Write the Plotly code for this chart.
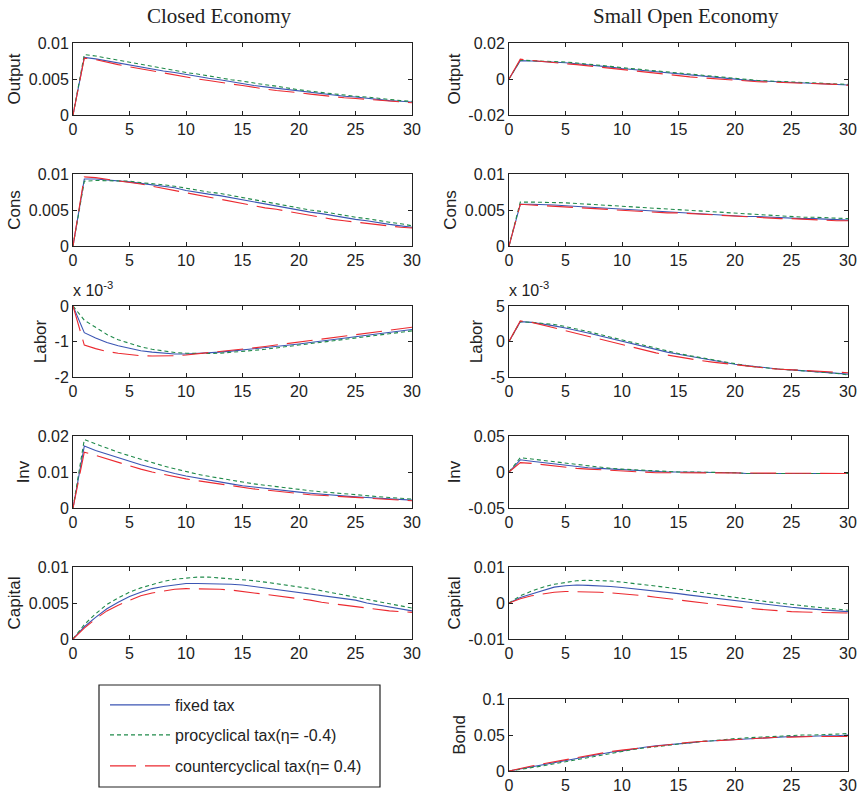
import plotly.graph_objects as go

W, H = 860, 797
t = list(range(31))

# ---------------- Closed economy ----------------
closed_output_fixed = [0, .0080, .0078, .0075, .0072, .0069, .0066, .0063, .0061, .0059, .0056, .0053, .0051, .0049, .0046, .0043, .0041, .0039, .0037, .0035, .0033, .0031, .0029, .0027, .0026, .0025, .0023, .0021, .0020, .0019, .0018]
closed_output_pro = [0, .0084, .0082, .0079, .0076, .0073, .0070, .0067, .0065, .0062, .0059, .0057, .0054, .0051, .0049, .0047, .0044, .0042, .0040, .0037, .0035, .0033, .0031, .0029, .0028, .0026, .0025, .0023, .0021, .0020, .0019]
closed_output_counter = [0, .0079, .0077, .0073, .0070, .0067, .0064, .0061, .0058, .0056, .0053, .0050, .0048, .0045, .0043, .0041, .0038, .0036, .0034, .0033, .0031, .0029, .0027, .0025, .0024, .0023, .0022, .0021, .0019, .0018, .0017]

closed_cons_fixed = [0, .0093, .0093, .0092, .0091, .0089, .0087, .0085, .0083, .0081, .0077, .0074, .0072, .0070, .0067, .0064, .0061, .0058, .0056, .0053, .0050, .0047, .0045, .0042, .0039, .0037, .0035, .0032, .0030, .0028, .0026]
closed_cons_pro = [0, .0090, .0091, .0091, .0090, .0090, .0088, .0087, .0085, .0083, .0080, .0077, .0075, .0073, .0070, .0067, .0064, .0062, .0059, .0056, .0053, .0050, .0048, .0045, .0042, .0040, .0038, .0035, .0033, .0031, .0028]
closed_cons_counter = [0, .0096, .0095, .0093, .0091, .0089, .0086, .0083, .0080, .0077, .0073, .0071, .0068, .0065, .0062, .0059, .0056, .0053, .0051, .0048, .0045, .0042, .0040, .0037, .0035, .0033, .0032, .0030, .0028, .0026, .0025]

# labor in units of 1e-3
closed_labor_fixed = [0, -0.75, -0.90, -1.03, -1.12, -1.20, -1.26, -1.30, -1.33, -1.35, -1.35, -1.34, -1.32, -1.30, -1.27, -1.24, -1.21, -1.17, -1.14, -1.10, -1.07, -1.03, -0.99, -0.95, -0.91, -0.87, -0.83, -0.79, -0.74, -0.70, -0.66]
closed_labor_pro = [0, -0.40, -0.60, -0.80, -0.95, -1.06, -1.15, -1.22, -1.27, -1.31, -1.33, -1.34, -1.34, -1.33, -1.31, -1.28, -1.25, -1.22, -1.18, -1.14, -1.10, -1.06, -1.02, -0.98, -0.94, -0.90, -0.86, -0.82, -0.78, -0.74, -0.70]
closed_labor_counter = [0, -1.10, -1.20, -1.28, -1.33, -1.37, -1.40, -1.41, -1.41, -1.40, -1.38, -1.35, -1.32, -1.29, -1.26, -1.22, -1.18, -1.14, -1.10, -1.06, -1.02, -0.98, -0.93, -0.89, -0.85, -0.81, -0.76, -0.72, -0.68, -0.64, -0.60]

closed_inv_fixed = [0, .0172, .0160, .0150, .0138, .0128, .0120, .0112, .0103, .0096, .0089, .0083, .0077, .0072, .0067, .0062, .0058, .0054, .0050, .0047, .0044, .0041, .0038, .0036, .0033, .0031, .0029, .0027, .0025, .0024, .0022]
closed_inv_pro = [0, .0190, .0178, .0166, .0155, .0145, .0135, .0126, .0117, .0109, .0101, .0094, .0088, .0082, .0077, .0072, .0067, .0063, .0058, .0055, .0051, .0048, .0045, .0042, .0039, .0036, .0034, .0031, .0029, .0027, .0025]
closed_inv_counter = [0, .0155, .0146, .0136, .0126, .0116, .0108, .0100, .0093, .0087, .0081, .0076, .0071, .0066, .0061, .0057, .0053, .0050, .0046, .0043, .0040, .0037, .0035, .0032, .0030, .0028, .0026, .0024, .0022, .0021, .0020]

closed_capital_fixed = [0, .0017, .0030, .0042, .0051, .0059, .0065, .0070, .0073, .0075, .0077, .0077, .0077, .0077, .0076, .0075, .0073, .0071, .0069, .0067, .0065, .0063, .0061, .0059, .0057, .0054, .0050, .0047, .0044, .0042, .0039]
closed_capital_pro = [0, .0020, .0035, .0048, .0057, .0065, .0071, .0076, .0080, .0083, .0085, .0086, .0086, .0085, .0084, .0083, .0081, .0079, .0077, .0075, .0072, .0070, .0067, .0064, .0061, .0058, .0055, .0052, .0049, .0046, .0043]
closed_capital_counter = [0, .0015, .0028, .0039, .0047, .0054, .0060, .0064, .0067, .0069, .0070, .0070, .0070, .0069, .0068, .0066, .0065, .0063, .0061, .0058, .0056, .0054, .0051, .0049, .0046, .0044, .0042, .0040, .0039, .0038, .0037]

# ---------------- Small open economy ----------------
open_output_fixed = [0, .0102, .0100, .0098, .0095, .0090, .0085, .0080, .0073, .0066, .0058, .0052, .0045, .0038, .0032, .0026, .0020, .0014, .0009, .0004, 0, -.0006, -.0010, -.0013, -.0016, -.0018, -.0020, -.0022, -.0024, -.0028, -.0033]
open_output_pro = [0, .0105, .0102, .0100, .0098, .0094, .0089, .0084, .0077, .0070, .0063, .0057, .0050, .0043, .0036, .0030, .0024, .0018, .0012, .0006, .0001, -.0004, -.0008, -.0011, -.0014, -.0017, -.0020, -.0023, -.0025, -.0028, -.0030]
open_output_counter = [0, .0110, .0103, .0096, .0090, .0085, .0080, .0073, .0065, .0058, .0050, .0043, .0036, .0029, .0023, .0017, .0012, .0007, .0002, -.0003, -.0008, -.0012, -.0015, -.0017, -.0019, -.0021, -.0022, -.0023, -.0026, -.0030, -.0035]

open_cons_fixed = [0, .0058, .0058, .0058, .0057, .0056, .0055, .0054, .0053, .0052, .0051, .0050, .0049, .0048, .0047, .0047, .0046, .0045, .0044, .0043, .0042, .0041, .0041, .0040, .0039, .0039, .0038, .0038, .0037, .0036, .0036]
open_cons_pro = [0, .0061, .0061, .0061, .0061, .0060, .0059, .0058, .0057, .0056, .0055, .0054, .0053, .0052, .0051, .0050, .0049, .0048, .0047, .0046, .0045, .0044, .0043, .0042, .0042, .0041, .0040, .0040, .0039, .0039, .0038]
open_cons_counter = [0, .0058, .0057, .0056, .0055, .0055, .0054, .0053, .0052, .0051, .0050, .0049, .0048, .0047, .0046, .0046, .0045, .0044, .0043, .0042, .0041, .0040, .0040, .0039, .0038, .0038, .0037, .0037, .0036, .0035, .0035]

# labor in units of 1e-3
open_labor_fixed = [0, 2.8, 2.7, 2.5, 2.2, 1.9, 1.6, 1.2, 0.8, 0.4, 0.0, -0.4, -0.7, -1.1, -1.5, -1.8, -2.1, -2.4, -2.7, -2.9, -3.2, -3.4, -3.6, -3.8, -3.9, -4.0, -4.1, -4.2, -4.3, -4.5, -4.6]
open_labor_pro = [0, 2.8, 2.7, 2.6, 2.4, 2.1, 1.8, 1.4, 1.0, 0.6, 0.2, -0.2, -0.6, -1.0, -1.3, -1.7, -2.0, -2.3, -2.6, -2.9, -3.1, -3.4, -3.6, -3.8, -3.9, -4.0, -4.1, -4.2, -4.4, -4.5, -4.7]
open_labor_counter = [0, 2.9, 2.7, 2.3, 1.9, 1.6, 1.2, 0.8, 0.3, -0.1, -0.5, -0.9, -1.3, -1.6, -1.9, -2.2, -2.4, -2.7, -2.9, -3.1, -3.3, -3.5, -3.7, -3.8, -3.9, -4.0, -4.1, -4.2, -4.3, -4.3, -4.4]

open_inv_fixed = [0, .017, .015, .013, .011, .009, .008, .006, .005, .004, .003, .002, .001, .001, 0, 0, 0, 0, 0, 0, -.001, -.002, -.002, -.002, -.002, -.002, -.002, -.002, -.002, -.002, -.002]
open_inv_pro = [0, .020, .018, .016, .014, .012, .010, .008, .006, .005, .004, .003, .002, .001, .001, 0, 0, 0, 0, 0, -.001, -.002, -.002, -.002, -.002, -.002, -.002, -.002, -.002, -.002, -.002]
open_inv_counter = [0, .013, .012, .010, .008, .006, .005, .004, .003, .002, .001, 0, -.001, -.001, -.001, -.001, -.001, -.001, -.001, -.001, -.002, -.002, -.002, -.002, -.002, -.002, -.002, -.002, -.002, -.002, -.002]

open_capital_fixed = [0, .0015, .0025, .0035, .0044, .0048, .0050, .0049, .0048, .0046, .0043, .0040, .0037, .0034, .0030, .0026, .0022, .0018, .0014, .0010, .0006, .0002, -.0002, -.0006, -.0009, -.0012, -.0015, -.0018, -.0020, -.0022, -.0024]
open_capital_pro = [0, .0020, .0033, .0044, .0052, .0058, .0062, .0063, .0063, .0061, .0058, .0055, .0051, .0047, .0043, .0039, .0034, .0029, .0025, .0020, .0015, .0011, .0007, .0003, -.0001, -.0005, -.0008, -.0011, -.0014, -.0017, -.0020]
open_capital_counter = [0, .0012, .0020, .0026, .0030, .0032, .0032, .0031, .0030, .0028, .0026, .0023, .0020, .0016, .0012, .0008, .0004, 0, -.0004, -.0008, -.0011, -.0014, -.0017, -.0020, -.0022, -.0024, -.0025, -.0026, -.0027, -.0027, -.0028]

open_bond_fixed = [0, .003, .006, .009, .012, .015, .018, .021, .024, .026, .028, .031, .033, .035, .036, .038, .039, .041, .042, .043, .044, .045, .046, .047, .047, .048, .048, .049, .049, .049, .050]
open_bond_pro = [0, .002, .004, .007, .010, .013, .016, .019, .022, .025, .027, .030, .032, .034, .036, .038, .039, .041, .042, .044, .045, .046, .047, .048, .049, .049, .050, .050, .051, .051, .052]
open_bond_counter = [0, .004, .007, .010, .013, .016, .019, .022, .025, .027, .029, .031, .033, .035, .037, .038, .040, .041, .042, .043, .044, .045, .046, .046, .047, .047, .048, .048, .048, .048, .048]

series_names = ["fixed tax", "procyclical tax(\u03b7= -0.4)", "countercyclical tax(\u03b7= 0.4)"]
x_ticks = [0, 5, 10, 15, 20, 25, 30]

# (col, row, ylabel, tickvals, ticktext, [fixed, pro, counter])
panels = [
    (0, 0, "Output", [0, 0.005, 0.01], ["0", "0.005", "0.01"], [closed_output_fixed, closed_output_pro, closed_output_counter]),
    (0, 1, "Cons", [0, 0.005, 0.01], ["0", "0.005", "0.01"], [closed_cons_fixed, closed_cons_pro, closed_cons_counter]),
    (0, 2, "Labor", [-2, -1, 0], ["-2", "-1", "0"], [closed_labor_fixed, closed_labor_pro, closed_labor_counter]),
    (0, 3, "Inv", [0, 0.01, 0.02], ["0", "0.01", "0.02"], [closed_inv_fixed, closed_inv_pro, closed_inv_counter]),
    (0, 4, "Capital", [0, 0.005, 0.01], ["0", "0.005", "0.01"], [closed_capital_fixed, closed_capital_pro, closed_capital_counter]),
    (1, 0, "Output", [-0.02, 0, 0.02], ["-0.02", "0", "0.02"], [open_output_fixed, open_output_pro, open_output_counter]),
    (1, 1, "Cons", [0, 0.005, 0.01], ["0", "0.005", "0.01"], [open_cons_fixed, open_cons_pro, open_cons_counter]),
    (1, 2, "Labor", [-5, 0, 5], ["-5", "0", "5"], [open_labor_fixed, open_labor_pro, open_labor_counter]),
    (1, 3, "Inv", [-0.05, 0, 0.05], ["-0.05", "0", "0.05"], [open_inv_fixed, open_inv_pro, open_inv_counter]),
    (1, 4, "Capital", [-0.01, 0, 0.01], ["-0.01", "0", "0.01"], [open_capital_fixed, open_capital_pro, open_capital_counter]),
    (1, 5, "Bond", [0, 0.05, 0.1], ["0", "0.05", "0.1"], [open_bond_fixed, open_bond_pro, open_bond_counter]),
]

# layout geometry (pixels)
col_x = [(73, 412), (509, 848)]
row_y = [(43, 115), (174, 246), (306, 377), (436, 508), (567, 639), (699, 771)]

styles = [
    dict(color="#3b55b3", width=1.1, dash="solid"),
    dict(color="#1f8a4a", width=1.1, dash="4px,3px"),
    dict(color="#ec2a30", width=1.1, dash="26px,9px"),
]
legend_ids = ["legend", "legend2", "legend3"]

NARROW = "Liberation Sans Narrow, Arial Narrow, Liberation Sans, Arial"
TICKFONT = dict(family=NARROW, size=16, color="#222")
YTITLEFONT = dict(family="Liberation Sans, Arial", size=17, color="#222")

fig = go.Figure()
layout = {}
for k, (col, row, ylab, tv, tt, data) in enumerate(panels, start=1):
    xs = "" if k == 1 else str(k)
    x0, x1 = col_x[col]
    y0, y1 = row_y[row]
    layout["xaxis" + xs] = dict(
        domain=[x0 / W, x1 / W], anchor="y" + xs, range=[0, 30],
        tickvals=x_ticks, ticktext=[str(v) for v in x_ticks],
        ticks="inside", ticklen=4, tickcolor="#222", mirror="ticks",
        showline=True, linecolor="#222", linewidth=1, showgrid=False, zeroline=False,
        tickfont=TICKFONT, automargin=False,
    )
    layout["yaxis" + xs] = dict(
        domain=[1 - y1 / H, 1 - y0 / H], anchor="x" + xs, range=[tv[0], tv[-1]],
        tickvals=tv, ticktext=tt,
        ticks="inside", ticklen=4, tickcolor="#222", mirror="ticks",
        showline=True, linecolor="#222", linewidth=1, showgrid=False, zeroline=False,
        tickfont=TICKFONT, automargin=False,
        title=dict(text=ylab, font=YTITLEFONT, standoff=3),
    )
    for i, s in enumerate(data):
        fig.add_trace(go.Scatter(
            x=t, y=s, mode="lines", name=series_names[i], line=styles[i],
            xaxis="x" + xs, yaxis="y" + xs,
            showlegend=(k == 1), legend=legend_ids[i],
        ))

# legends inside a drawn box
leg_font = dict(family=NARROW, size=16, color="#222")
for i, (lid, py) in enumerate(zip(legend_ids, [705, 735, 766])):
    layout[lid] = dict(
        x=105 / W, y=1 - py / H, xanchor="left", yanchor="middle",
        bgcolor="rgba(0,0,0,0)", borderwidth=0, font=leg_font, itemwidth=60,
    )

fig.update_layout(**layout)

fig.add_shape(type="rect", xref="paper", yref="paper",
              x0=99 / W, x1=380 / W, y0=1 - 787 / H, y1=1 - 685 / H,
              line=dict(color="#222", width=1.2), fillcolor="rgba(0,0,0,0)")

title_font = dict(family="Liberation Serif, Times New Roman, serif", size=21, color="#222")
fig.add_annotation(text="Closed Economy", x=219.5 / W, y=1 - 16 / H, xref="paper", yref="paper",
                   showarrow=False, font=title_font, xanchor="center", yanchor="middle")
fig.add_annotation(text="Small Open Economy", x=686 / W, y=1 - 16 / H, xref="paper", yref="paper",
                   showarrow=False, font=title_font, xanchor="center", yanchor="middle")
for xl in (71, 507):
    fig.add_annotation(text="x 10<sup>-3</sup>", x=xl / W, y=1 - 289 / H, xref="paper", yref="paper",
                       showarrow=False, font=dict(family=NARROW, size=16, color="#222"),
                       xanchor="left", yanchor="middle")

fig.update_layout(width=W, height=H, margin=dict(l=0, r=0, t=0, b=0, autoexpand=False),
                  paper_bgcolor="white", plot_bgcolor="white")

fig.write_html("out.html", config=dict(displayModeBar=False),
               post_script="document.documentElement.style.margin='0';document.body.style.margin='0';document.body.style.padding='0';document.documentElement.style.overflow='hidden';document.body.style.overflow='hidden';")
